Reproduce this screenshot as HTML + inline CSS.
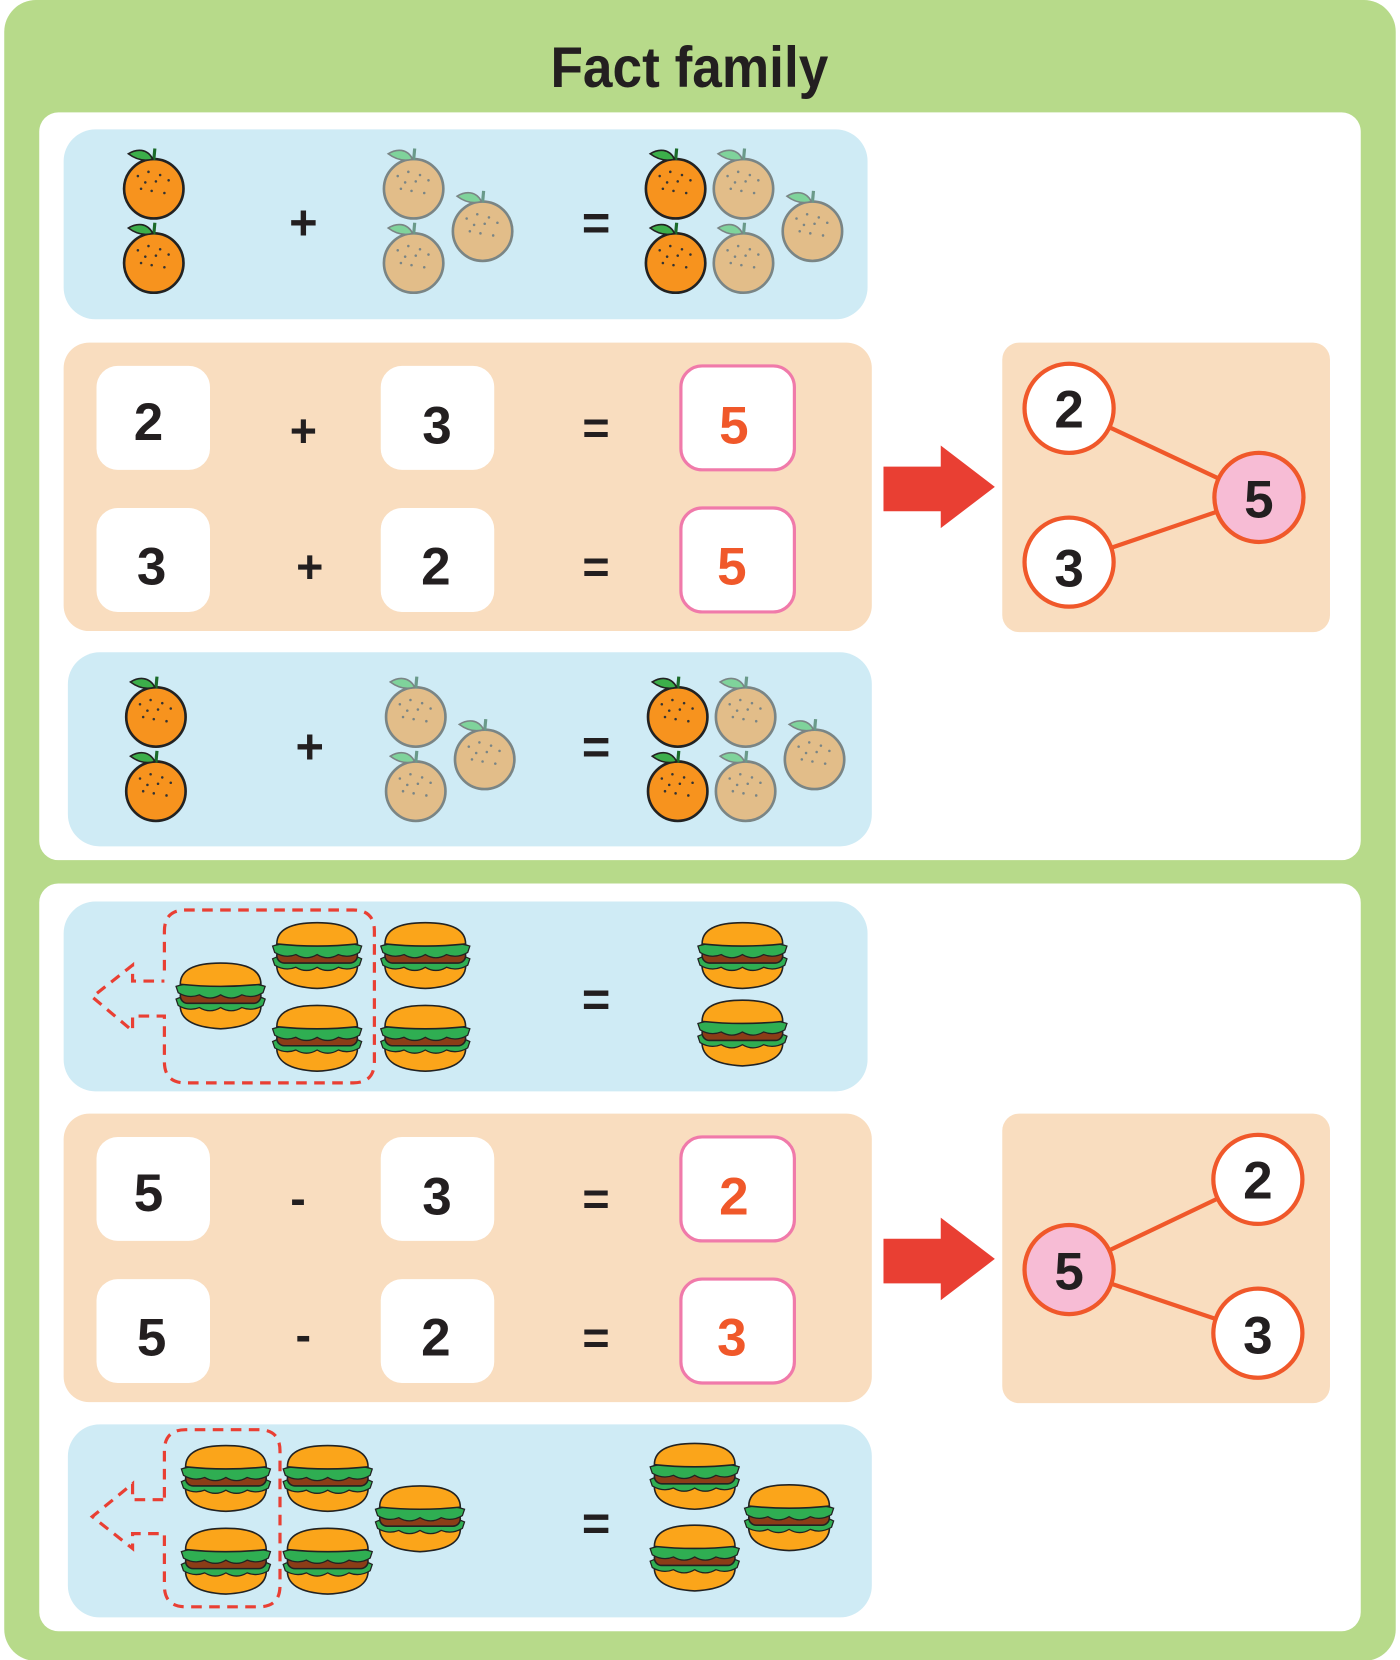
<!DOCTYPE html>
<html><head><meta charset="utf-8"><style>html,body{margin:0;padding:0;background:#fff}svg{display:block}</style></head>
<body>
<svg width="1400" height="1660" viewBox="0 0 1400 1660" xmlns="http://www.w3.org/2000/svg" font-family="Liberation Sans, sans-serif" font-weight="bold">
<defs>
<g id="or">
<circle cx="0" cy="0" r="28" fill="#f7931e" stroke="#222" stroke-width="2.5"/>
<path d="M0,-27 L1,-38" stroke="#1b6b2a" stroke-width="3"/>
<path d="M-1,-28 C-6,-38 -16,-38 -24,-33 C-16,-27 -8,-26 -1,-28Z" fill="#3cae4a" stroke="#222" stroke-width="1.5"/>
<g fill="#333"><circle cx="-15" cy="-12" r="1.2"/><circle cx="-5" cy="-16" r="1.2"/><circle cx="6" cy="-13" r="1.2"/><circle cx="14" cy="-8" r="1.2"/><circle cx="-8" cy="-6" r="1.2"/><circle cx="2" cy="-7" r="1.2"/><circle cx="-12" cy="0" r="1.2"/><circle cx="10" cy="4" r="1.2"/><circle cx="-2" cy="2" r="1.2"/></g>
</g>
<g id="po">
<circle cx="0" cy="0" r="28" fill="#e2bd89" stroke="#7a8585" stroke-width="2.5"/>
<path d="M0,-27 L1,-38" stroke="#6a9a8a" stroke-width="3"/>
<path d="M-1,-28 C-6,-38 -16,-38 -24,-33 C-16,-27 -8,-26 -1,-28Z" fill="#7fd39b" stroke="#7a8585" stroke-width="1.5"/>
<g fill="#7a8585"><circle cx="-15" cy="-12" r="1.2"/><circle cx="-5" cy="-16" r="1.2"/><circle cx="6" cy="-13" r="1.2"/><circle cx="14" cy="-8" r="1.2"/><circle cx="-8" cy="-6" r="1.2"/><circle cx="2" cy="-7" r="1.2"/><circle cx="-12" cy="0" r="1.2"/><circle cx="10" cy="4" r="1.2"/><circle cx="-2" cy="2" r="1.2"/></g>
</g>
<g id="bg">
<path d="M-38,6 Q-40,28 0,30 Q40,28 38,6Z" fill="#fba51a" stroke="#222" stroke-width="1.5"/>
<path d="M-42,2 Q-30,-4 0,-4 Q30,-4 42,2 L40,8 Q30,14 20,10 Q10,16 0,10 Q-10,16 -20,10 Q-30,14 -40,8Z" fill="#2fae52" stroke="#222" stroke-width="1.2"/>
<rect x="-38" y="-8" width="76" height="14" rx="7" fill="#8b3d17" stroke="#222" stroke-width="1.5"/>
<path d="M-42,-10 Q-30,-14 0,-14 Q30,-14 42,-10 L40,-4 Q30,2 20,-2 Q10,4 0,-2 Q-10,4 -20,-2 Q-30,2 -40,-4Z" fill="#2fae52" stroke="#222" stroke-width="1.2"/>
<path d="M-38,-12 Q-38,-32 0,-32 Q38,-32 38,-12 Q0,-8 -38,-12Z" fill="#fba51a" stroke="#222" stroke-width="1.5"/>
</g>
</defs>
<g transform="scale(1.0606)">
<rect x="4" y="0" width="1312" height="1566" rx="30" fill="#b7da8a"/>
<text x="519" y="82" font-size="54" fill="#231f20" textLength="262" lengthAdjust="spacingAndGlyphs">Fact family</text>
<rect x="37" y="106" width="1246" height="705" rx="18" fill="#fff"/>
<rect x="37" y="833" width="1246" height="705" rx="18" fill="#fff"/>

<!-- row 1 -->
<rect x="60" y="122" width="758" height="179" rx="30" fill="#cfebf5"/>
<use href="#or" x="145" y="178"/><use href="#or" x="145" y="248"/>
<use href="#po" x="390" y="178"/><use href="#po" x="390" y="248"/><use href="#po" x="455" y="218"/>
<use href="#or" x="637" y="178"/><use href="#or" x="637" y="248"/>
<use href="#po" x="701" y="178"/><use href="#po" x="701" y="248"/><use href="#po" x="766" y="218"/>
<text x="286" y="226" font-size="46" text-anchor="middle" fill="#231f20">+</text>
<text x="562" y="226" font-size="46" text-anchor="middle" fill="#231f20">=</text>

<!-- row 2 -->
<rect x="60" y="323" width="762" height="272" rx="24" fill="#f9ddbf"/>
<g font-size="50" text-anchor="middle" fill="#231f20">
<rect x="91" y="345" width="107" height="98" rx="20" fill="#fff"/>
<rect x="359" y="345" width="107" height="98" rx="20" fill="#fff"/>
<rect x="642" y="345" width="107" height="98" rx="20" fill="#fff" stroke="#f07aaa" stroke-width="3"/>
<text x="140" y="415">2</text><text x="412" y="418">3</text><text x="692" y="418" fill="#f0582a">5</text>
<text x="286" y="421" font-size="44">+</text><text x="562" y="418" font-size="44">=</text>
<rect x="91" y="479" width="107" height="98" rx="20" fill="#fff"/>
<rect x="359" y="479" width="107" height="98" rx="20" fill="#fff"/>
<rect x="642" y="479" width="107" height="98" rx="20" fill="#fff" stroke="#f07aaa" stroke-width="3"/>
<text x="143" y="551">3</text><text x="411" y="551">2</text><text x="690" y="551" fill="#f0582a">5</text>
<text x="292" y="549" font-size="44">+</text><text x="562" y="549" font-size="44">=</text>
</g>
<path d="M833,440 H887 V420 L938,459 L887,498 V482 H833Z" fill="#e93f33"/>
<rect x="945" y="323" width="309" height="273" rx="16" fill="#f9ddbf"/>
<g stroke="#f0582a" stroke-width="4"><line x1="1008" y1="385" x2="1187" y2="469"/><line x1="1008" y1="530" x2="1187" y2="469"/></g>
<g stroke="#f0582a" stroke-width="4" fill="#fff"><circle cx="1008" cy="385" r="42"/><circle cx="1008" cy="530" r="42"/><circle cx="1187" cy="469" r="42" fill="#f7bcd5"/></g>
<g font-size="50" text-anchor="middle" fill="#231f20"><text x="1008" y="403">2</text><text x="1008" y="553">3</text><text x="1187" y="488">5</text></g>

<!-- row 3 -->
<rect x="64" y="615" width="758" height="183" rx="30" fill="#cfebf5"/>
<use href="#or" x="147" y="676"/><use href="#or" x="147" y="746"/>
<use href="#po" x="392" y="676"/><use href="#po" x="392" y="746"/><use href="#po" x="457" y="716"/>
<use href="#or" x="639" y="676"/><use href="#or" x="639" y="746"/>
<use href="#po" x="703" y="676"/><use href="#po" x="703" y="746"/><use href="#po" x="768" y="716"/>
<text x="292" y="720" font-size="46" text-anchor="middle" fill="#231f20">+</text>
<text x="562" y="720" font-size="46" text-anchor="middle" fill="#231f20">=</text>

<!-- row 4 -->
<rect x="60" y="850" width="758" height="179" rx="30" fill="#cfebf5"/>
<path d="M155,915 V878 Q155,858 175,858 H333 Q353,858 353,878 V1001 Q353,1021 333,1021 H175 Q155,1021 155,1001 V958 H125 V972 L87,940 L125,910 V925 H155" fill="none" stroke="#e93f33" stroke-width="3" stroke-dasharray="10 7"/>
<use href="#bg" x="208" y="940"/><use href="#bg" x="299" y="902"/><use href="#bg" x="299" y="980"/>
<use href="#bg" x="401" y="902"/><use href="#bg" x="401" y="980"/>
<use href="#bg" x="700" y="902"/><use href="#bg" x="700" y="975"/>
<text x="562" y="958" font-size="46" text-anchor="middle" fill="#231f20">=</text>

<!-- row 5 -->
<rect x="60" y="1050" width="762" height="272" rx="24" fill="#f9ddbf"/>
<g font-size="50" text-anchor="middle" fill="#231f20">
<rect x="91" y="1072" width="107" height="98" rx="20" fill="#fff"/>
<rect x="359" y="1072" width="107" height="98" rx="20" fill="#fff"/>
<rect x="642" y="1072" width="107" height="98" rx="20" fill="#fff" stroke="#f07aaa" stroke-width="3"/>
<text x="140" y="1142">5</text><text x="412" y="1145">3</text><text x="692" y="1145" fill="#f0582a">2</text>
<text x="281" y="1145" font-size="44">-</text><text x="562" y="1145" font-size="44">=</text>
<rect x="91" y="1206" width="107" height="98" rx="20" fill="#fff"/>
<rect x="359" y="1206" width="107" height="98" rx="20" fill="#fff"/>
<rect x="642" y="1206" width="107" height="98" rx="20" fill="#fff" stroke="#f07aaa" stroke-width="3"/>
<text x="143" y="1278">5</text><text x="411" y="1278">2</text><text x="690" y="1278" fill="#f0582a">3</text>
<text x="286" y="1274" font-size="44">-</text><text x="562" y="1276" font-size="44">=</text>
</g>
<path d="M833,1168 H887 V1148 L938,1187 L887,1226 V1210 H833Z" fill="#e93f33"/>
<rect x="945" y="1050" width="309" height="273" rx="16" fill="#f9ddbf"/>
<g stroke="#f0582a" stroke-width="4"><line x1="1008" y1="1197" x2="1186" y2="1112"/><line x1="1008" y1="1197" x2="1186" y2="1257"/></g>
<g stroke="#f0582a" stroke-width="4" fill="#fff"><circle cx="1186" cy="1112" r="42"/><circle cx="1186" cy="1257" r="42"/><circle cx="1008" cy="1197" r="42" fill="#f7bcd5"/></g>
<g font-size="50" text-anchor="middle" fill="#231f20"><text x="1186" y="1130">2</text><text x="1186" y="1276">3</text><text x="1008" y="1216">5</text></g>

<!-- row 6 -->
<rect x="64" y="1343" width="758" height="182" rx="30" fill="#cfebf5"/>
<path d="M155,1412 V1368 Q155,1348 175,1348 H244 Q264,1348 264,1368 V1495 Q264,1515 244,1515 H175 Q155,1515 155,1495 V1446 H125 V1460 L87,1430 L125,1399 V1414 H155" fill="none" stroke="#e93f33" stroke-width="3" stroke-dasharray="10 7"/>
<use href="#bg" x="213" y="1395"/><use href="#bg" x="213" y="1473"/>
<use href="#bg" x="309" y="1395"/><use href="#bg" x="309" y="1473"/><use href="#bg" x="396" y="1433"/>
<use href="#bg" x="655" y="1393"/><use href="#bg" x="655" y="1470"/><use href="#bg" x="744" y="1432"/>
<text x="562" y="1452" font-size="46" text-anchor="middle" fill="#231f20">=</text>
</g>
</svg>
</body></html>
